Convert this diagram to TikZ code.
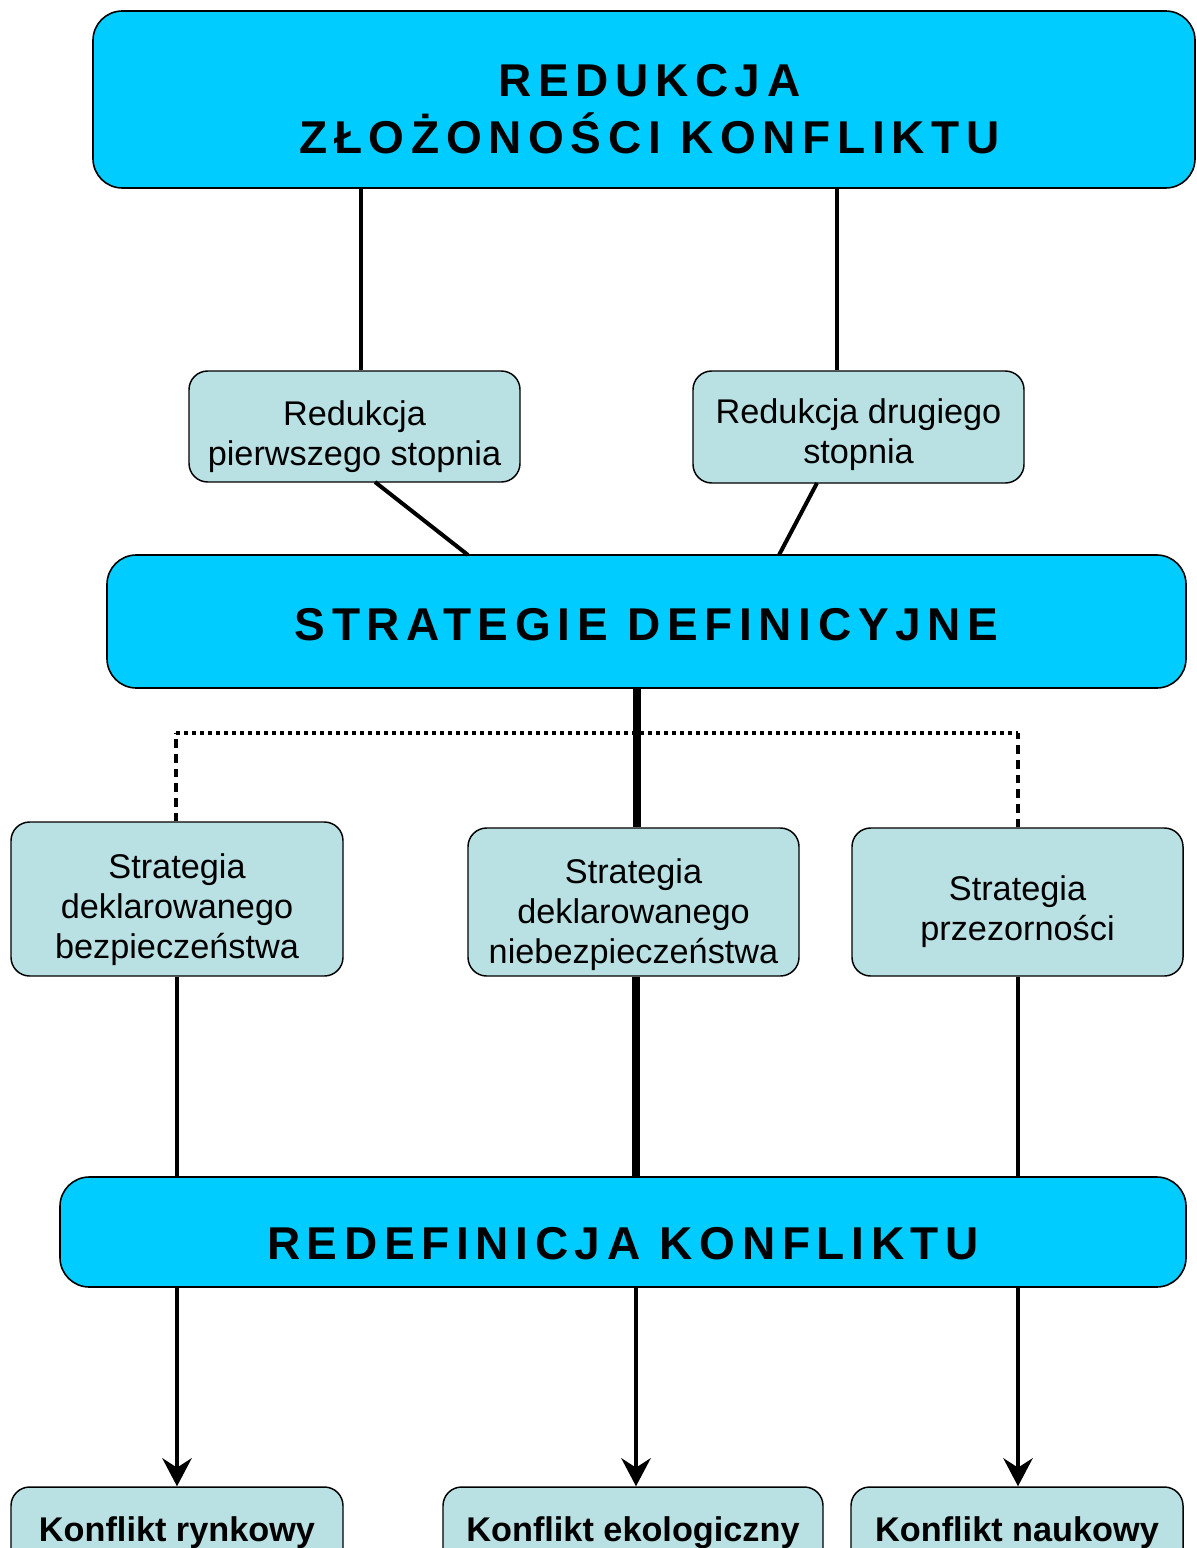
\documentclass[tikz,border=0pt]{standalone}
\usepackage{fontspec}
\setmainfont{Liberation Sans}
\usetikzlibrary{arrows.meta}
\definecolor{bigblue}{HTML}{00CCFF}
\definecolor{lightbox}{RGB}{185,224,227}
\newcommand\bigtitle{\fontsize{34.5pt}{42.75pt}\selectfont\bfseries\addfontfeature{LetterSpace=14.5}}
\newcommand\smalltxt{\fontsize{25.7pt}{30pt}\selectfont}
\begin{document}
\begin{tikzpicture}[x=0.75pt,y=-0.75pt,
  bigbox/.style={draw=black,line width=1.2pt,fill=bigblue,rounded corners=22pt,inner sep=0pt},
  smallbox/.style={draw=black,line width=1.1pt,fill=lightbox,rounded corners=14pt,inner sep=0pt,minimum width=248.25pt},
  bigtxt/.style={inner sep=0pt,font=\bigtitle,align=center},
  smalltxtstyle/.style={inner sep=0pt,font=\smalltxt,align=center},
  boldtxt/.style={inner sep=0pt,font=\smalltxt\bfseries,align=center},
  conn/.style={line width=3pt},
  thickconn/.style={line width=6pt},
  dotconn/.style={line width=3pt,dash pattern=on 3.2pt off 2.8pt},
  dotvert/.style={line width=3pt,dash pattern=on 6.5pt off 4.5pt},
  arr/.style={line width=3pt,-{Stealth[length=21pt,width=22pt,inset=7pt]}}
]
\useasboundingbox (0,0) rectangle (1196,1548);
% coordinates for vertical connectors
\coordinate (xa) at (361,0);
\coordinate (xb) at (837,0);
\coordinate (xl) at (177,0);
\coordinate (xm) at (636,0);
\coordinate (xs) at (637,0);
\coordinate (xr) at (1018,0);
% boxes
\node[bigbox,minimum width=826.5pt,minimum height=132.75pt] (top) at (644,99.5) {};
\node[smallbox,minimum height=83.25pt] (r1) at (354.5,426.5) {};
\node[smallbox,minimum height=84pt] (r2) at (858.5,427) {};
\node[bigbox,minimum width=809.25pt,minimum height=99.75pt] (sd) at (646.5,621.5) {};
\node[smallbox,minimum width=249pt,minimum height=115.5pt] (s1) at (177,899) {};
\node[smallbox,minimum height=111pt] (s2) at (633.5,902) {};
\node[smallbox,minimum height=111pt] (s3) at (1017.5,902) {};
\node[bigbox,minimum width=844.5pt,minimum height=82.5pt] (rk) at (623,1232) {};
\node[smallbox,minimum width=249pt,minimum height=63pt] (k1) at (177,1529) {};
\node[smallbox,minimum width=285pt,minimum height=63pt] (k2) at (633,1529) {};
\node[smallbox,minimum width=249pt,minimum height=63pt] (k3) at (1017,1529) {};
% texts
\node[bigtxt] (topt) at ([xshift=4pt,yshift=-7.5pt]top.center) {REDUKCJA\\ZŁOŻONOŚCI KONFLIKTU};
\node[smalltxtstyle] (r1t) at ([yshift=-7.5pt]r1.center) {Redukcja\\pierwszego stopnia};
\node[smalltxtstyle] (r2t) at ([yshift=-6pt]r2.center) {Redukcja drugiego\\stopnia};
\node[bigtxt] (sdt) at ([yshift=-2.5pt]sd.center) {STRATEGIE DEFINICYJNE};
\node[smalltxtstyle] (s1t) at ([yshift=-8pt]s1.center) {Strategia\\deklarowanego\\bezpieczeństwa};
\node[smalltxtstyle] (s2t) at ([yshift=-9.5pt]s2.center) {Strategia\\deklarowanego\\niebezpieczeństwa};
\node[smalltxtstyle] (s3t) at ([yshift=-7.5pt]s3.center) {Strategia\\przezorności};
\node[bigtxt] (rkt) at ([yshift=-9pt]rk.center) {REDEFINICJA KONFLIKTU};
\node[boldtxt] (k1t) at ([yshift=-3pt]k1.center) {Konflikt rynkowy};
\node[boldtxt] (k2t) at ([yshift=-3pt]k2.center) {Konflikt ekologiczny};
\node[boldtxt] (k3t) at ([yshift=-3pt]k3.center) {Konflikt naukowy};
% connectors top -> level 2
\draw[conn] (top.south -| xa) -- (r1.north -| xa);
\draw[conn] (top.south -| xb) -- (r2.north -| xb);
% level 2 -> strategie
\coordinate (r1a) at (375,482);
\coordinate (sda) at (468,555);
\coordinate (r2a) at (817,483);
\coordinate (sdb) at (779,555);
\draw[conn] (r1a) -- (sda);
\draw[conn] (r2a) -- (sdb);
% strategie -> level 3
\coordinate (dl) at (176,733);
\coordinate (dr) at (1018,733);
\draw[dotconn] (dl) -- (dr);
\draw[dotvert] (s1.north -| dl) -- (dl);
\draw[dotvert] (s3.north -| dr) -- (dr);
\draw[thickconn] (sd.south -| xs) -- (s2.north -| xs);
% level 3 -> redefinicja
\draw[conn] (s1.south -| xl) -- (rk.north -| xl);
\draw[thickconn] (s2.south -| xm) -- (rk.north -| xm);
\draw[conn] (s3.south -| xr) -- (rk.north -| xr);
% redefinicja -> conflicts
\draw[arr] (rk.south -| xl) -- (k1.north -| xl);
\draw[arr] (rk.south -| xm) -- (k2.north -| xm);
\draw[arr] (rk.south -| xr) -- (k3.north -| xr);
\end{tikzpicture}
\end{document}
